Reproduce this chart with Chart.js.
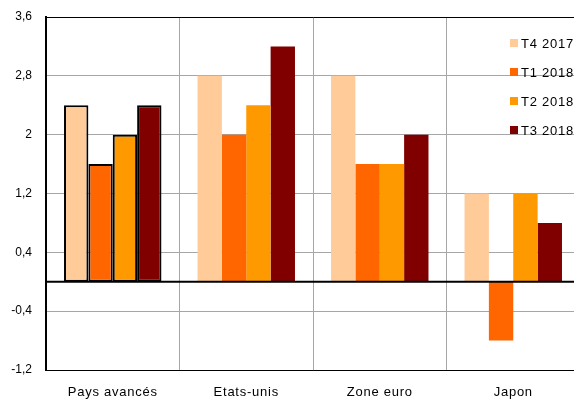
<!DOCTYPE html>
<html>
<head>
<meta charset="utf-8">
<script src="https://cdn.jsdelivr.net/npm/chart.js@4/dist/chart.umd.min.js"></script>
<style>
  html, body { margin: 0; padding: 0; background: #fff; overflow: hidden; }
  #wrap { width: 574px; height: 405px; overflow: hidden; }
  canvas { display: block; }
</style>
</head>
<body>
<div id="wrap"><canvas id="c" width="582" height="405"></canvas></div>
<script>
// Categories and quarterly series (growth, %)
const categories = ['Pays avancés', 'Etats-unis', 'Zone euro', 'Japon'];
const seriesLabels = ['T4 2017', 'T1 2018', 'T2 2018', 'T3 2018'];
const t4_2017 = [2.4, 2.8, 2.8, 1.2];
const t1_2018 = [1.6, 2.0, 1.6, -0.8];
const t2_2018 = [2.0, 2.4, 1.6, 1.2];
const t3_2018 = [2.4, 3.2, 2.0, 0.8];
const yMin = -1.2, yMax = 3.6, yStep = 0.8;

const colors = ['#FFCC99', '#FF6600', '#FF9900', '#800000'];
const values = [t4_2017, t1_2018, t2_2018, t3_2018];

const FONT = '"Liberation Sans", Arial, sans-serif';
const SPACING = '0.75px';

// Legend drawn inside the plot area, top right
const legendPlugin = {
  id: 'innerLegend',
  afterDraw(chart) {
    const ctx = chart.ctx;
    ctx.save();
    ctx.font = '13px ' + FONT;
    ctx.letterSpacing = SPACING;
    ctx.textBaseline = 'middle';
    ctx.textAlign = 'left';
    chart.data.datasets.forEach((ds, i) => {
      const y = 43 + i * 29;
      ctx.fillStyle = ds.backgroundColor;
      ctx.fillRect(510, y - 4, 8, 8);
      ctx.fillStyle = '#000';
      ctx.fillText(ds.label, 521, y + 1);
    });
    ctx.restore();
  }
};

// Slightly wider letter spacing for the category labels
const spacedLabelsPlugin = {
  id: 'spacedLabels',
  afterLayout(chart) {
    const s = chart.scales.x;
    if (s && !s._spaced) {
      const orig = s.drawLabels.bind(s);
      s.drawLabels = function (area) {
        this.ctx.save();
        this.ctx.letterSpacing = SPACING;
        orig(area);
        this.ctx.restore();
      };
      s._spaced = true;
    }
  }
};

// Zero line redrawn above the bars
const zeroLinePlugin = {
  id: 'zeroLine',
  afterDatasetsDraw(chart) {
    const y = chart.scales.y.getPixelForValue(0);
    const ctx = chart.ctx;
    ctx.save();
    ctx.strokeStyle = '#000';
    ctx.lineWidth = 2;
    ctx.beginPath();
    ctx.moveTo(chart.chartArea.left, y);
    ctx.lineTo(chart.chartArea.right, y);
    ctx.stroke();
    ctx.restore();
  }
};

new Chart(document.getElementById('c'), {
  type: 'bar',
  data: {
    labels: categories,
    datasets: seriesLabels.map((label, i) => ({
      label,
      data: values[i],
      backgroundColor: colors[i],
      borderColor: '#000',
      borderWidth: [2, 0, 0, 0],
      borderSkipped: false,
      barPercentage: 1.0,
      categoryPercentage: 0.73
    }))
  },
  options: {
    responsive: false,
    animation: false,
    layout: { padding: { top: 17, right: 2, left: 0, bottom: 0 } },
    plugins: {
      legend: { display: false },
      tooltip: { enabled: false }
    },
    scales: {
      x: {
        afterFit(scale) { scale.height = 35; },
        grid: {
          offset: true,
          color: '#A6A6A6',
          lineWidth: 1,
          drawTicks: false
        },
        border: { display: true, color: '#000', width: 1 },
        ticks: {
          color: '#000',
          padding: 15,
          font: { family: FONT, size: 13 }
        }
      },
      y: {
        min: yMin,
        max: yMax,
        afterFit(scale) {
          scale.width = 46;
          scale.paddingTop = 0;
          scale.paddingBottom = 0;
        },
        afterBuildTicks(scale) {
          const ticks = [];
          for (let k = 0; k <= Math.round((yMax - yMin) / yStep); k++) {
            ticks.push({ value: Math.round((yMin + k * yStep) * 10) / 10 });
          }
          scale.ticks = ticks;
        },
        grid: {
          drawTicks: false,
          color(ctx) {
            const v = ctx.tick && ctx.tick.value;
            if (v === 0 || v === yMax || v === yMin) return '#000';
            return '#A6A6A6';
          },
          lineWidth(ctx) {
            const v = ctx.tick && ctx.tick.value;
            return v === 0 ? 2 : 1;
          }
        },
        border: { display: true, color: '#000', width: 2 },
        ticks: {
          color: '#000',
          padding: 14,
          font: { family: FONT, size: 12 },
          callback(v) {
            const r = Math.round(v * 10) / 10;
            return (Number.isInteger(r) ? String(r) : r.toFixed(1)).replace('.', ',');
          }
        }
      }
    }
  },
  plugins: [legendPlugin, spacedLabelsPlugin, zeroLinePlugin]
});
</script>
</body>
</html>
